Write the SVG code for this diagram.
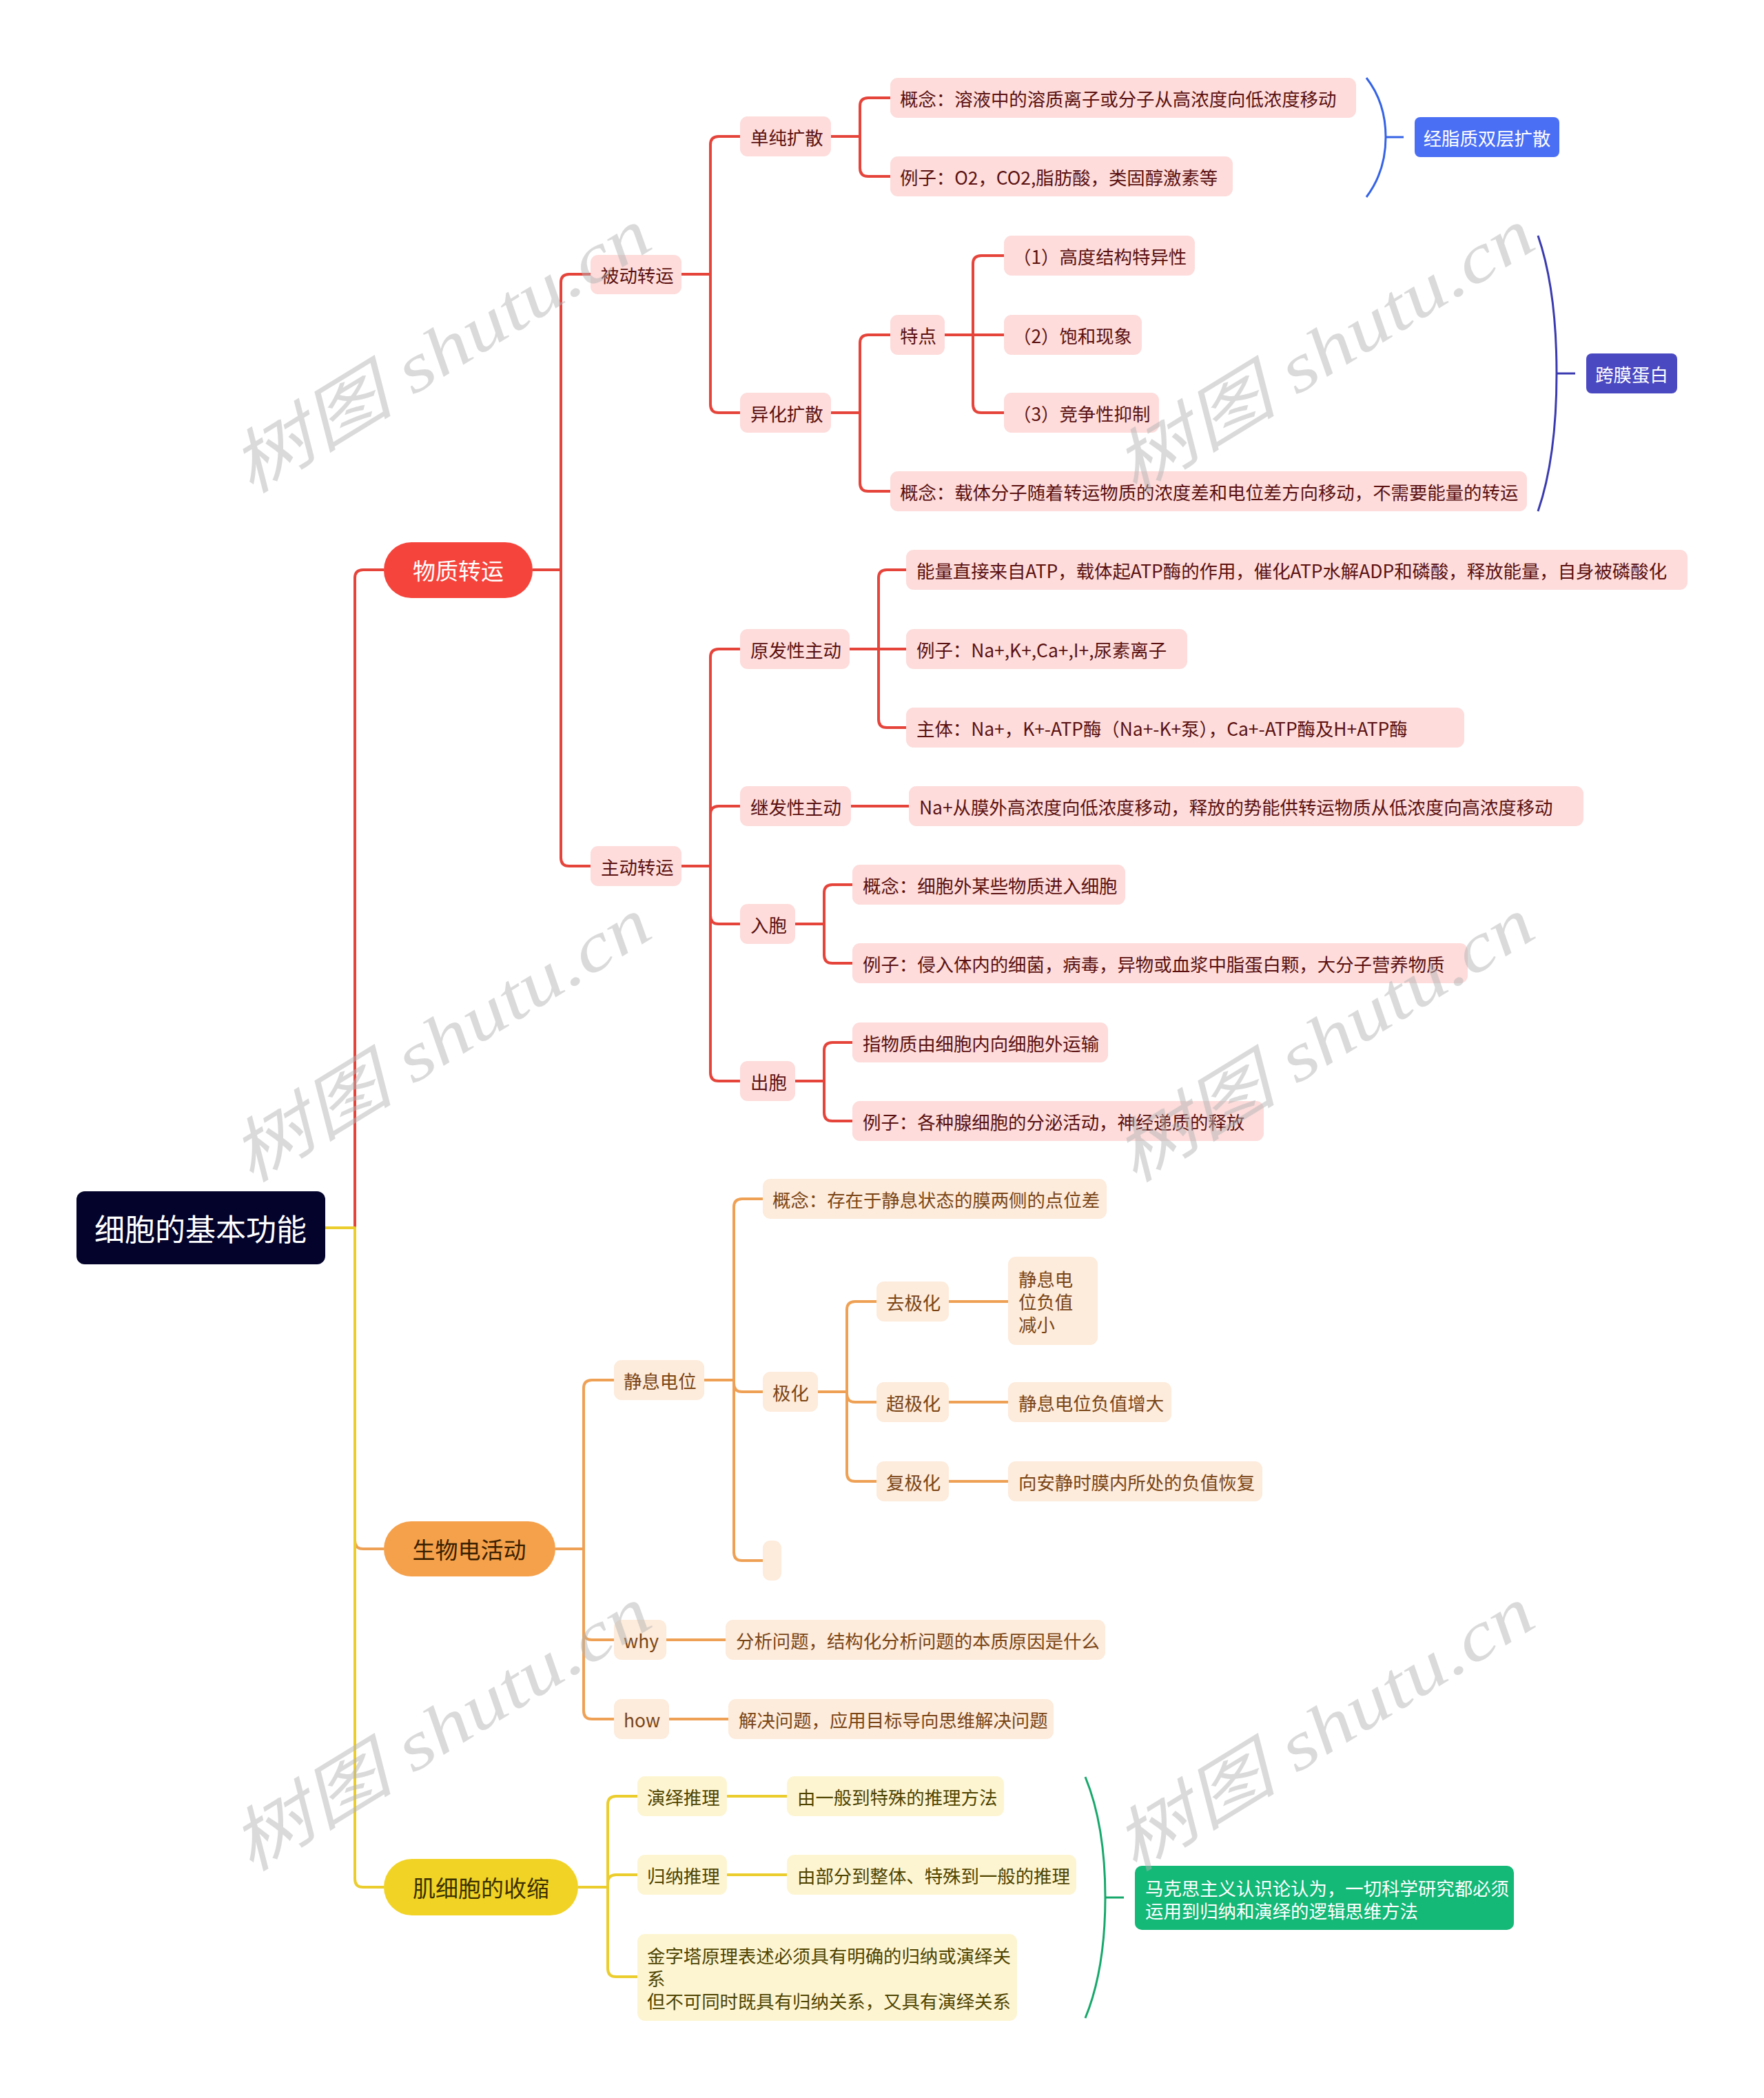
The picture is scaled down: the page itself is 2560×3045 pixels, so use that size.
<svg xmlns="http://www.w3.org/2000/svg" width="2560" height="3045" viewBox="0 0 2560 3045">
<style>
text{font-family:"Noto Sans CJK SC","Liberation Sans",sans-serif;dominant-baseline:central}
.t26{font-size:26.4px}
.rf{fill:#fddcdb}.rt{fill:#5b1111}
.of{fill:#fdebdb}.ot{fill:#7a4516}
.yf{fill:#fdf5d2}.yt{fill:#4f4400}
.wt{fill:#ffffff}
.cr{fill:none;stroke:#e5443b;stroke-width:4;stroke-linejoin:round}
.co{fill:none;stroke:#eea155;stroke-width:4;stroke-linejoin:round}
.cy{fill:none;stroke:#ebcd2e;stroke-width:4;stroke-linejoin:round}
.wm{font-family:"Liberation Serif","Noto Sans CJK SC",serif;font-style:italic;font-size:100px;fill:#b4b4b4;opacity:0.48;text-anchor:middle}
</style>
<rect width="2560" height="3045" fill="#ffffff"/>
<g id="connectors">
<path class="cr" d="M472 1782 H515 V839 Q515 827 527 827 H557"/>
<path class="co" d="M472 1782 H515 V2236 Q515 2248 527 2248 H557"/>
<path class="cy" d="M472 1782 H515 V2727 Q515 2739 527 2739 H557"/>
<path class="cr" d="M773 827 H814 V410 Q814 398 826 398 H857"/>
<path class="cr" d="M773 827 H814 V1245 Q814 1257 826 1257 H857"/>
<path class="cr" d="M989 398 H1031 V210 Q1031 198 1043 198 H1074"/>
<path class="cr" d="M989 398 H1031 V587 Q1031 599 1043 599 H1074"/>
<path class="cr" d="M1206 198 H1248 V154 Q1248 142 1260 142 H1292"/>
<path class="cr" d="M1206 198 H1248 V244 Q1248 256 1260 256 H1292"/>
<path class="cr" d="M1206 599 H1248 V498 Q1248 486 1260 486 H1292"/>
<path class="cr" d="M1206 599 H1248 V701 Q1248 713 1260 713 H1292"/>
<path class="cr" d="M1371 486 H1412 V383 Q1412 371 1424 371 H1457"/>
<path class="cr" d="M1371 486 H1457"/>
<path class="cr" d="M1371 486 H1412 V587 Q1412 599 1424 599 H1457"/>
<path class="cr" d="M989 1257 H1031 V954 Q1031 942 1043 942 H1074"/>
<path class="cr" d="M989 1257 H1031 V1182 Q1031 1170 1043 1170 H1074"/>
<path class="cr" d="M989 1257 H1031 V1329 Q1031 1341 1043 1341 H1074"/>
<path class="cr" d="M989 1257 H1031 V1557 Q1031 1569 1043 1569 H1074"/>
<path class="cr" d="M1233 942 H1275 V839 Q1275 827 1287 827 H1315"/>
<path class="cr" d="M1233 942 H1315"/>
<path class="cr" d="M1233 942 H1275 V1044 Q1275 1056 1287 1056 H1315"/>
<path class="cr" d="M1235 1170 H1319"/>
<path class="cr" d="M1154 1341 H1196 V1296 Q1196 1284 1208 1284 H1237"/>
<path class="cr" d="M1154 1341 H1196 V1386 Q1196 1398 1208 1398 H1237"/>
<path class="cr" d="M1154 1569 H1196 V1525 Q1196 1513 1208 1513 H1237"/>
<path class="cr" d="M1154 1569 H1196 V1615 Q1196 1627 1208 1627 H1237"/>
<path class="co" d="M806 2248 H847 V2015 Q847 2003 859 2003 H891"/>
<path class="co" d="M806 2248 H847 V2368 Q847 2380 859 2380 H891"/>
<path class="co" d="M806 2248 H847 V2483 Q847 2495 859 2495 H891"/>
<path class="co" d="M1022 2003 H1065 V1752 Q1065 1740 1077 1740 H1107"/>
<path class="co" d="M1022 2003 H1065 V2008 Q1065 2020 1077 2020 H1107"/>
<path class="co" d="M1022 2003 H1065 V2253 Q1065 2265 1077 2265 H1107"/>
<path class="co" d="M1187 2020 H1229 V1901 Q1229 1889 1241 1889 H1272"/>
<path class="co" d="M1187 2020 H1229 V2023 Q1229 2035 1241 2035 H1272"/>
<path class="co" d="M1187 2020 H1229 V2138 Q1229 2150 1241 2150 H1272"/>
<path class="co" d="M1377 1889 H1463"/>
<path class="co" d="M1377 2035 H1463"/>
<path class="co" d="M1377 2150 H1463"/>
<path class="co" d="M967 2380 H1053"/>
<path class="co" d="M971 2495 H1057"/>
<path class="cy" d="M839 2739 H882 V2619 Q882 2607 894 2607 H925"/>
<path class="cy" d="M839 2739 H882 V2733 Q882 2721 894 2721 H925"/>
<path class="cy" d="M839 2739 H882 V2857 Q882 2869 894 2869 H925"/>
<path class="cy" d="M1055 2607 H1142"/>
<path class="cy" d="M1055 2721 H1142"/>
<path d="M1983 113 C2004 140 2011 170 2011 199 C2011 228 2004 258 1983 286 M2011 199 H2037" fill="none" stroke="#3563e6" stroke-width="3"/>
<path d="M2232 342 C2252 400 2259 470 2259 542 C2259 614 2252 684 2232 742 M2259 542 H2286" fill="none" stroke="#3b3bb0" stroke-width="3"/>
<path d="M1575 2579 C1596 2630 1604 2690 1604 2754 C1604 2818 1596 2878 1575 2929 M1604 2754 H1631" fill="none" stroke="#17a86b" stroke-width="3"/>
</g>
<g id="root"><rect x="111" y="1729" width="361" height="106" rx="12" fill="#03032b"/><text x="291" y="1782" font-size="44" text-anchor="middle" class="wt">细胞的基本功能</text></g>
<g id="n-wuzhi"><rect x="557" y="787" width="216" height="81" rx="40" fill="#f5443b"/><text x="665" y="827" font-size="33" text-anchor="middle" class="wt">物质转运</text></g>
<g id="n-shengwu"><rect x="557" y="2208" width="249" height="80" rx="40" fill="#f5a04a"/><text x="681" y="2248" font-size="33" text-anchor="middle" fill="#3a2000">生物电活动</text></g>
<g id="n-ji"><rect x="557" y="2698" width="282" height="82" rx="41" fill="#f1d325"/><text x="698" y="2739" font-size="33" text-anchor="middle" fill="#3a3000">肌细胞的收缩</text></g>

<g id="n-beidong"><rect class="rf" x="857" y="370" width="132" height="57" rx="11"/><text class="t26 rt" x="872" y="398">被动转运</text></g>
<g id="n-zhudong"><rect class="rf" x="857" y="1228" width="132" height="58" rx="11"/><text class="t26 rt" x="872" y="1257">主动转运</text></g>
<g id="n-danchun"><rect class="rf" x="1074" y="169" width="132" height="58" rx="11"/><text class="t26 rt" x="1089" y="198">单纯扩散</text></g>
<g id="n-yihua"><rect class="rf" x="1074" y="570" width="132" height="58" rx="11"/><text class="t26 rt" x="1089" y="599">异化扩散</text></g>
<g id="n-dc1"><rect class="rf" x="1292" y="113" width="676" height="58" rx="11"/><text class="t26 rt" x="1306" y="142">概念：溶液中的溶质离子或分子从高浓度向低浓度移动</text></g>
<g id="n-dc2"><rect class="rf" x="1292" y="227" width="497" height="58" rx="11"/><text class="t26 rt" x="1306" y="256">例子：O2，CO2,脂肪酸，类固醇激素等</text></g>
<g id="n-jingzhi"><rect x="2053" y="170" width="210" height="58" rx="8" fill="#4b6ff4"/><text class="t26 wt" x="2158" y="199" text-anchor="middle">经脂质双层扩散</text></g>
<g id="n-tedian"><rect class="rf" x="1292" y="457" width="79" height="58" rx="11"/><text class="t26 rt" x="1306" y="486">特点</text></g>
<g id="n-td1"><rect class="rf" x="1457" y="342" width="277" height="58" rx="11"/><text class="t26 rt" x="1470" y="371">（1）高度结构特异性</text></g>
<g id="n-td2"><rect class="rf" x="1457" y="457" width="200" height="58" rx="11"/><text class="t26 rt" x="1470" y="486">（2）饱和现象</text></g>
<g id="n-td3"><rect class="rf" x="1457" y="570" width="225" height="58" rx="11"/><text class="t26 rt" x="1470" y="599">（3）竞争性抑制</text></g>
<g id="n-yh2"><rect class="rf" x="1292" y="684" width="924" height="58" rx="11"/><text class="t26 rt" x="1306" y="713">概念：载体分子随着转运物质的浓度差和电位差方向移动，不需要能量的转运</text></g>
<g id="n-kuamo"><rect x="2302" y="513" width="132" height="58" rx="8" fill="#4b49c2"/><text class="t26 wt" x="2368" y="542" text-anchor="middle">跨膜蛋白</text></g>

<g id="n-yuanfa"><rect class="rf" x="1074" y="913" width="159" height="58" rx="11"/><text class="t26 rt" x="1089" y="942">原发性主动</text></g>
<g id="n-yf1"><rect class="rf" x="1315" y="798" width="1134" height="58" rx="11"/><text class="t26 rt" x="1330" y="827">能量直接来自ATP，载体起ATP酶的作用，催化ATP水解ADP和磷酸，释放能量，自身被磷酸化</text></g>
<g id="n-yf2"><rect class="rf" x="1315" y="913" width="408" height="58" rx="11"/><text class="t26 rt" x="1330" y="942">例子：Na+,K+,Ca+,I+,尿素离子</text></g>
<g id="n-yf3"><rect class="rf" x="1315" y="1027" width="810" height="58" rx="11"/><text class="t26 rt" x="1330" y="1056">主体：Na+，K+-ATP酶（Na+-K+泵），Ca+-ATP酶及H+ATP酶</text></g>
<g id="n-jifa"><rect class="rf" x="1074" y="1141" width="161" height="58" rx="11"/><text class="t26 rt" x="1089" y="1170">继发性主动</text></g>
<g id="n-jf1"><rect class="rf" x="1319" y="1141" width="979" height="58" rx="11"/><text class="t26 rt" x="1334" y="1170">Na+从膜外高浓度向低浓度移动，释放的势能供转运物质从低浓度向高浓度移动</text></g>
<g id="n-rubao"><rect class="rf" x="1074" y="1312" width="80" height="58" rx="11"/><text class="t26 rt" x="1089" y="1341">入胞</text></g>
<g id="n-rb1"><rect class="rf" x="1237" y="1255" width="396" height="58" rx="11"/><text class="t26 rt" x="1252" y="1284">概念：细胞外某些物质进入细胞</text></g>
<g id="n-rb2"><rect class="rf" x="1237" y="1369" width="893" height="58" rx="11"/><text class="t26 rt" x="1252" y="1398">例子：侵入体内的细菌，病毒，异物或血浆中脂蛋白颗，大分子营养物质</text></g>
<g id="n-chubao"><rect class="rf" x="1074" y="1540" width="80" height="58" rx="11"/><text class="t26 rt" x="1089" y="1569">出胞</text></g>
<g id="n-cb1"><rect class="rf" x="1237" y="1484" width="371" height="58" rx="11"/><text class="t26 rt" x="1252" y="1513">指物质由细胞内向细胞外运输</text></g>
<g id="n-cb2"><rect class="rf" x="1237" y="1598" width="597" height="58" rx="11"/><text class="t26 rt" x="1252" y="1627">例子：各种腺细胞的分泌活动，神经递质的释放</text></g>

<g id="n-jingxi"><rect class="of" x="891" y="1974" width="131" height="58" rx="11"/><text class="t26 ot" x="905" y="2003">静息电位</text></g>
<g id="n-jx1"><rect class="of" x="1107" y="1711" width="499" height="58" rx="11"/><text class="t26 ot" x="1121" y="1740">概念：存在于静息状态的膜两侧的点位差</text></g>
<g id="n-jihua"><rect class="of" x="1107" y="1991" width="80" height="58" rx="11"/><text class="t26 ot" x="1121" y="2020">极化</text></g>
<g id="n-empty"><rect class="of" x="1107" y="2236" width="27" height="58" rx="11"/></g>
<g id="n-qu"><rect class="of" x="1272" y="1860" width="105" height="58" rx="11"/><text class="t26 ot" x="1286" y="1889">去极化</text></g>
<g id="n-qu1"><rect class="of" x="1463" y="1824" width="130" height="128" rx="11"/><text class="t26 ot" x="1478" y="1855">静息电</text><text class="t26 ot" x="1478" y="1888">位负值</text><text class="t26 ot" x="1478" y="1921">减小</text></g>
<g id="n-chao"><rect class="of" x="1272" y="2006" width="105" height="58" rx="11"/><text class="t26 ot" x="1286" y="2035">超极化</text></g>
<g id="n-chao1"><rect class="of" x="1463" y="2006" width="237" height="58" rx="11"/><text class="t26 ot" x="1478" y="2035">静息电位负值增大</text></g>
<g id="n-fu"><rect class="of" x="1272" y="2121" width="105" height="58" rx="11"/><text class="t26 ot" x="1286" y="2150">复极化</text></g>
<g id="n-fu1"><rect class="of" x="1463" y="2121" width="369" height="58" rx="11"/><text class="t26 ot" x="1478" y="2150">向安静时膜内所处的负值恢复</text></g>
<g id="n-why"><rect class="of" x="891" y="2351" width="76" height="58" rx="11"/><text class="t26 ot" x="905" y="2380">why</text></g>
<g id="n-why1"><rect class="of" x="1053" y="2351" width="551" height="58" rx="11"/><text class="t26 ot" x="1068" y="2380">分析问题，结构化分析问题的本质原因是什么</text></g>
<g id="n-how"><rect class="of" x="891" y="2466" width="80" height="58" rx="11"/><text class="t26 ot" x="905" y="2495">how</text></g>
<g id="n-how1"><rect class="of" x="1057" y="2466" width="472" height="58" rx="11"/><text class="t26 ot" x="1072" y="2495">解决问题，应用目标导向思维解决问题</text></g>

<g id="n-yanyi"><rect class="yf" x="925" y="2578" width="130" height="58" rx="11"/><text class="t26 yt" x="939" y="2607">演绎推理</text></g>
<g id="n-yy1"><rect class="yf" x="1142" y="2578" width="315" height="58" rx="11"/><text class="t26 yt" x="1157" y="2607">由一般到特殊的推理方法</text></g>
<g id="n-guina"><rect class="yf" x="925" y="2692" width="130" height="58" rx="11"/><text class="t26 yt" x="939" y="2721">归纳推理</text></g>
<g id="n-gn1"><rect class="yf" x="1142" y="2692" width="420" height="58" rx="11"/><text class="t26 yt" x="1157" y="2721">由部分到整体、特殊到一般的推理</text></g>
<g id="n-jinzita"><rect class="yf" x="925" y="2807" width="551" height="126" rx="11"/><text class="t26 yt" x="939" y="2837">金字塔原理表述必须具有明确的归纳或演绎关</text><text class="t26 yt" x="939" y="2870">系</text><text class="t26 yt" x="939" y="2903">但不可同时既具有归纳关系，又具有演绎关系</text></g>
<g id="n-makesi"><rect x="1647" y="2708" width="550" height="93" rx="10" fill="#14b877"/><text class="t26 wt" x="1662" y="2739">马克思主义认识论认为，一切科学研究都必须</text><text class="t26 wt" x="1662" y="2772">运用到归纳和演绎的逻辑思维方法</text></g>

<g id="watermarks">
<text class="wm" x="640" y="510" transform="rotate(-31.5 640 510)" textLength="690" lengthAdjust="spacingAndGlyphs">树图 shutu.cn</text>
<text class="wm" x="1922" y="510" transform="rotate(-31.5 1922 510)" textLength="690" lengthAdjust="spacingAndGlyphs">树图 shutu.cn</text>
<text class="wm" x="640" y="1510" transform="rotate(-31.5 640 1510)" textLength="690" lengthAdjust="spacingAndGlyphs">树图 shutu.cn</text>
<text class="wm" x="1922" y="1510" transform="rotate(-31.5 1922 1510)" textLength="690" lengthAdjust="spacingAndGlyphs">树图 shutu.cn</text>
<text class="wm" x="640" y="2510" transform="rotate(-31.5 640 2510)" textLength="690" lengthAdjust="spacingAndGlyphs">树图 shutu.cn</text>
<text class="wm" x="1922" y="2510" transform="rotate(-31.5 1922 2510)" textLength="690" lengthAdjust="spacingAndGlyphs">树图 shutu.cn</text>
</g>
</svg>
